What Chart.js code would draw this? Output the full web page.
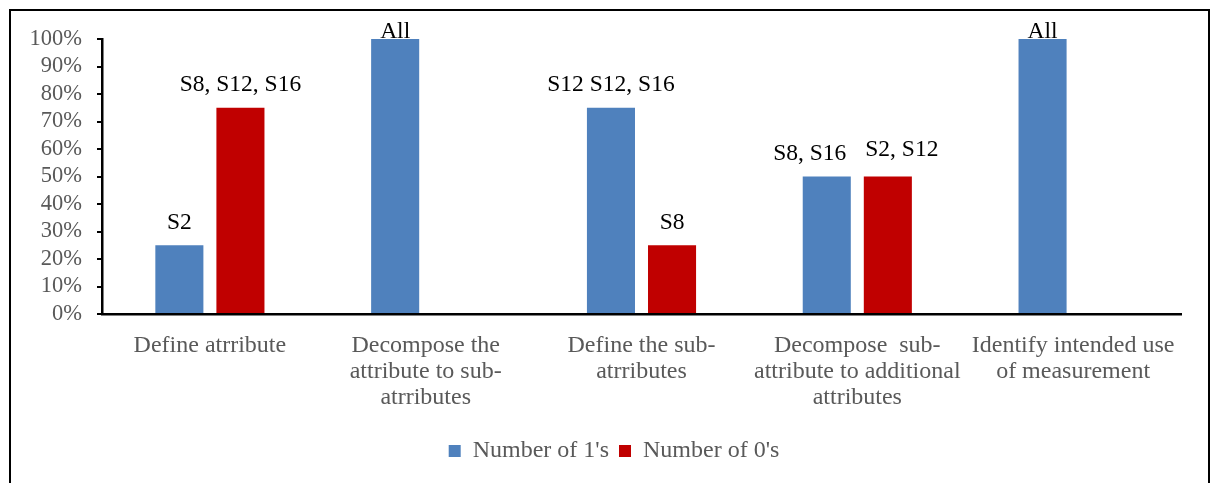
<!DOCTYPE html>
<html>
<head>
<meta charset="utf-8">
<script src="https://cdn.jsdelivr.net/npm/chart.js@4/dist/chart.umd.min.js"></script>
<style>
  html, body { margin: 0; padding: 0; background: #fff; }
  #wrap { position: relative; width: 1211px; height: 483px; overflow: hidden; }
  #frame {
    position: absolute; left: 9px; top: 9px; width: 1201px; height: 600px;
    box-sizing: border-box; border: 2px solid #000;
  }
  canvas { position: absolute; left: 0; top: 0; }
</style>
</head>
<body>
<div id="wrap">
  <div id="frame"></div>
  <canvas id="grafico" width="1211" height="483"></canvas>
</div>
<script>
/* ---------- dados ---------- */

const categorias = [
  'Define atrribute',
  ['Decompose the', 'attribute to sub-', 'atrributes'],
  ['Define the sub-', 'atrributes'],
  ['Decompose  sub-', 'attribute to additional', 'attributes'],
  ['Identify intended use', 'of measurement']
];

const uns = [25, 100, 75, 50, 100];
const zeros = [75, null, 25, 50, null];

const rotulosUns = ['S2', 'All', 'S12 S12, S16', 'S8, S16', 'All'];
const rotulosZeros = ['S8, S12, S16', '', 'S8', 'S2, S12', ''];

const ticksY = [0, 10, 20, 30, 40, 50, 60, 70, 80, 90, 100];

/* ---------- estilo ---------- */

const AZUL = '#4F81BD';
const VERMELHO = '#C00000';
const CINZA = '#595959';
const FONTE = "'Liberation Serif', 'Times New Roman', serif";

// rótulos do 4º grupo afastados um do outro para não se sobreporem
const ajusteX = [[0, 0, 0, -17, 0], [0, 0, 0, 14, 0]];
const ajusteY = [[0, 0, 0, 0, 0], [0, 0, 0, -4, 0]];

/* rótulos acima das barras */
const rotulosBarras = {
  id: 'rotulosBarras',
  afterDatasetsDraw(chart) {
    const ctx = chart.ctx;
    const topo = chart.chartArea.top;
    const textos = [rotulosUns, rotulosZeros];
    ctx.save();
    ctx.font = '23.5px ' + FONTE;
    ctx.fillStyle = '#000';
    ctx.textAlign = 'center';
    ctx.textBaseline = 'alphabetic';
    chart.data.datasets.forEach((ds, i) => {
      chart.getDatasetMeta(i).data.forEach((barra, j) => {
        const t = textos[i][j];
        if (!t || ds.data[j] == null) return;
        const y = Math.max(barra.y - 16.5, topo - 1) + ajusteY[i][j];
        ctx.fillText(t, barra.x + ajusteX[i][j], y);
      });
    });
    ctx.restore();
  }
};

/* legenda centrada sob a área de plotagem, e não sob o canvas todo */
const deslocaLegenda = {
  id: 'deslocaLegenda',
  afterLayout(chart) {
    const lg = chart.legend;
    if (!lg) return;
    lg.left += 23.5;
    lg.right += 23.5;
  }
};

new Chart(document.getElementById('grafico'), {
  type: 'bar',
  data: {
    labels: categorias,
    datasets: [
      { label: "Number of 1's", data: uns, backgroundColor: AZUL,
        categoryPercentage: 0.566, barPercentage: 0.787 },
      { label: "Number of 0's", data: zeros, backgroundColor: VERMELHO,
        categoryPercentage: 0.566, barPercentage: 0.787 }
    ]
  },
  options: {
    responsive: false,
    animation: false,
    layout: { padding: { left: 0, right: 30, top: 39, bottom: 10 } },
    plugins: {
      tooltip: { enabled: false },
      legend: {
        position: 'bottom',
        labels: {
          boxWidth: 12, boxHeight: 12, padding: 10,
          color: CINZA,
          font: { family: FONTE, size: 24 }
        }
      }
    },
    scales: {
      x: {
        grid: { display: true, drawOnChartArea: false, drawTicks: false },
        border: { display: true, color: '#000', width: 2.5 },
        ticks: {
          autoSkip: false, maxRotation: 0, padding: 19,
          color: CINZA,
          font: { family: FONTE, size: 24, lineHeight: 1.08 }
        },
        afterFit(s) {
          s.height = 114.9;
          s.paddingLeft = 0; s.paddingRight = 0;
        }
      },
      y: {
        min: 0, max: 100,
        afterBuildTicks(s) { s.ticks = ticksY.map(v => ({ value: v })); },
        grid: { display: true, drawOnChartArea: false, drawTicks: true,
                tickLength: 5, color: '#000', lineWidth: 2 },
        border: { display: true, color: '#000', width: 2.5 },
        ticks: {
          autoSkip: false, padding: 15,
          color: CINZA,
          font: { family: FONTE, size: 22.5 },
          callback: v => v + '%'
        },
        afterFit(s) {
          s.width = 102;
          s.paddingTop = 0; s.paddingBottom = 0;
        }
      }
    }
  },
  plugins: [rotulosBarras, deslocaLegenda]
});
</script>
</body>
</html>
